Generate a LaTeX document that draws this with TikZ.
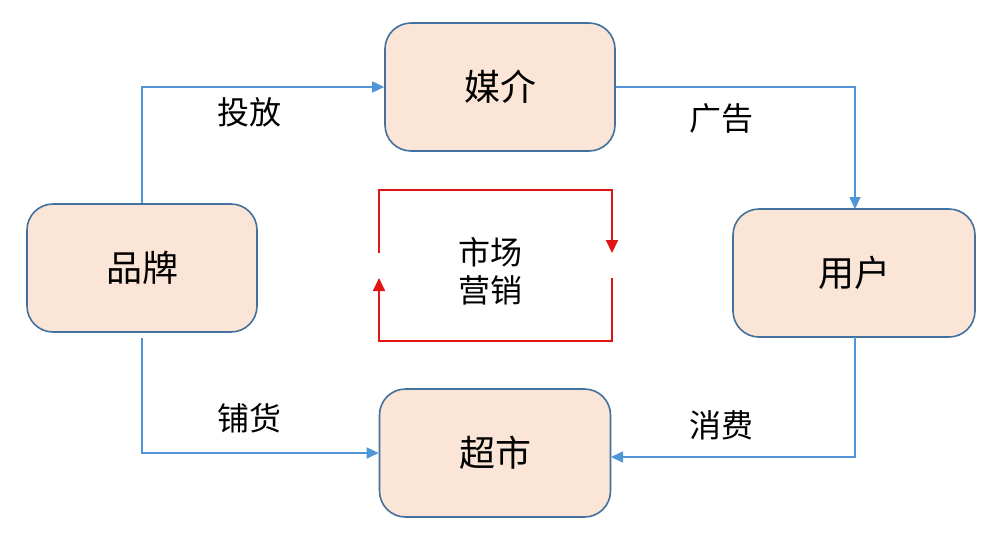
\documentclass[tikz,border=0pt]{standalone}
\usepackage{fontspec}
\setmainfont{Noto Sans CJK SC}
\usetikzlibrary{arrows.meta,positioning}
\definecolor{boxfill}{RGB}{251,229,214}
\definecolor{boxdraw}{RGB}{65,113,156}
\definecolor{linkblue}{RGB}{80,150,215}
\definecolor{loopred}{RGB}{225,20,20}
\tikzset{
  box/.style={draw=boxdraw, fill=boxfill, line width=1.6pt, rounded corners=26pt,
    minimum width=#1, minimum height=128pt, inner sep=0pt, font=\fontsize{36}{40}\selectfont},
  link/.style={draw=linkblue, line width=1.6pt, -{Triangle[length=12pt,width=11pt]}},
  loop/.style={draw=loopred, line width=1.8pt, -{Triangle[length=13pt,width=12pt]}},
  lbl/.style={font=\fontsize{32}{36}\selectfont, inner sep=0pt},
}
\begin{document}
\begin{tikzpicture}[x=1pt,y=-1pt]
\useasboundingbox (0,0) rectangle (998,542);
\fill[white] (0,0) rectangle (998,542);
\node[box=230pt] (media) at (500,87) {媒介};
\node[box=230pt] (brand) at (142,268) {品牌};
\node[box=242pt] (user) at (854,273) {用户};
\node[box=231pt] (market) at (495,453) {超市};
\coordinate (b1) at (142,87);
\coordinate (u1) at (855,87);
\coordinate (u2) at (855,457);
\coordinate (b2) at (142,453);
\coordinate (bs) at (142,338);
\coordinate (ue) at (855,209);
\coordinate (ms) at (855,337);
\coordinate (me) at (611,457);
\draw[link] (brand.north) -- (b1) -- (media.west);
\draw[link] (media.east |- b1) -- (u1) -- (ue);
\draw[link] (ms) -- (u2) -- (me);
\draw[link] (bs) -- (b2) -- (market.west);
\node[lbl] (l1) at (249,112) {投放};
\node[lbl] (l2) at (721,118) {广告};
\node[lbl] (l3) at (721,425) {消费};
\node[lbl] (l4) at (249,418) {铺货};
\coordinate (r1) at (379,253);
\coordinate (r2) at (379,190);
\coordinate (r3) at (612,190);
\coordinate (r4) at (612,253);
\coordinate (r5) at (612,278);
\coordinate (r6) at (612,341);
\coordinate (r7) at (379,341);
\coordinate (r8) at (379,278);
\draw[loop] (r1) -- (r2) -- (r3) -- (r4);
\draw[loop] (r5) -- (r6) -- (r7) -- (r8);
\node[font=\fontsize{32}{38}\selectfont, align=center, inner sep=0pt] (center) at (490,271) {市场\\营销};
\end{tikzpicture}
\end{document}
